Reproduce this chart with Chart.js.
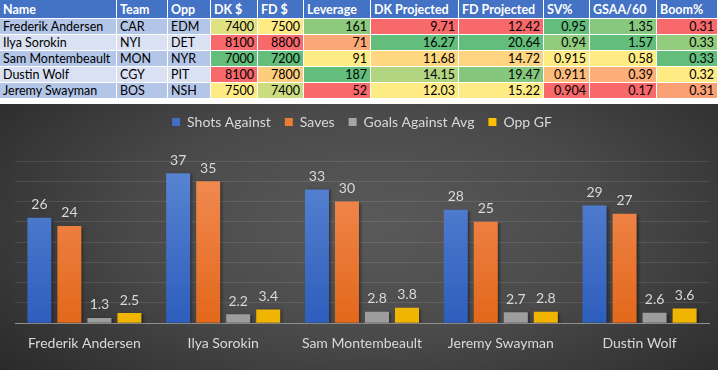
<!DOCTYPE html>
<html>
<head>
<meta charset="utf-8">
<script src="https://cdn.jsdelivr.net/npm/chart.js@4/dist/chart.umd.min.js"></script>
<style>
  html, body { margin: 0; padding: 0; background: #fff; }
  body { width: 718px; height: 370px; position: relative; overflow: hidden; font-family: Lato, "Open Sans", sans-serif; }
  #tbl { position: absolute; left: 0; top: 0; border-collapse: separate; border-spacing: 0; table-layout: fixed; width: 718px; font-size: 12.5px; }
  #tbl th, #tbl td { box-sizing: border-box; border-right: 1px solid #fff; border-bottom: 1px solid #fff; padding: 0 3px; white-space: nowrap; overflow: hidden; line-height: 15px; color: #000; }
  #tbl th { background: #4472C4; color: #fff; font-weight: bold; text-align: left; height: 19px; }
  #tbl td { height: 16px; }
  #tbl td.num { text-align: right; }
  #tbl tr.odd td.txt { background: #B4C6E7; }
  #tbl tr.even td.txt { background: #D9E1F2; }
  #wrap { position: absolute; left: 0; top: 104px; width: 718px; height: 266px;
          background: radial-gradient(ellipse 72% 95% at 52% 45%, #5a5a5a 0%, #4a4a4a 45%, #252525 100%); }
</style>
</head>
<body>
<table id="tbl"></table>
<div id="wrap"><canvas id="c" width="718" height="266"></canvas></div>
<script>
// ---- Table data ----
const tableHeaders = ["Name", "Team", "Opp", "DK $", "FD $", "Leverage", "DK Projected", "FD Projected", "SV%", "GSAA/60", "Boom%"];
const tableNames = ["Frederik Andersen", "Ilya Sorokin", "Sam Montembeault", "Dustin Wolf", "Jeremy Swayman"];
const tableTeams = ["CAR", "NYI", "MON", "CGY", "BOS"];
const tableOpps = ["EDM", "DET", "NYR", "PIT", "NSH"];
const dkSalary = [7400, 8100, 7000, 8100, 7500];
const fdSalary = [7500, 8800, 7200, 7800, 7400];
const leverage = [161, 71, 91, 187, 52];
const dkProjected = [9.71, 16.27, 11.68, 14.15, 12.03];
const fdProjected = [12.42, 20.64, 14.72, 19.47, 15.22];
const svPct = ["0.95", "0.94", "0.915", "0.911", "0.904"];
const gsaa60 = [1.35, 1.57, 0.58, 0.39, 0.17];
const boomPct = [0.306, 0.329, 0.334, 0.318, 0.311];

// ---- Chart data ----
const goalies = ["Frederik Andersen", "Ilya Sorokin", "Sam Montembeault", "Jeremy Swayman", "Dustin Wolf"];
const shotsAgainst = [26, 37, 33, 28, 29];
const saves = [24, 35, 30, 25, 27];
const goalsAgainstAvg = [1.3, 2.2, 2.8, 2.7, 2.6];
const oppGF = [2.5, 3.4, 3.8, 2.8, 3.6];

// ---- Colour scale (Excel 3-colour: red / yellow / green) ----
const RED = [248, 105, 107], YEL = [255, 235, 132], GRN = [99, 190, 123];
function mix(a, b, t) { return 'rgb(' + a.map((v, i) => Math.round(v + (b[i] - v) * t)).join(',') + ')'; }
function scale(vals, highGood) {
  const nums = vals.map(Number);
  const sorted = [...nums].sort((a, b) => a - b);
  const min = sorted[0], max = sorted[sorted.length - 1], mid = sorted[Math.floor(sorted.length / 2)];
  const lowC = highGood ? RED : GRN, highC = highGood ? GRN : RED;
  return nums.map(v => {
    if (v <= mid) return mix(lowC, YEL, mid === min ? 1 : (v - min) / (mid - min));
    return mix(YEL, highC, (v - mid) / (max - mid));
  });
}
const cols = [
  { vals: dkSalary, fmt: v => String(v), hg: false },
  { vals: fdSalary, fmt: v => String(v), hg: false },
  { vals: leverage, fmt: v => String(v), hg: true },
  { vals: dkProjected, fmt: v => v.toFixed(2), hg: true },
  { vals: fdProjected, fmt: v => v.toFixed(2), hg: true },
  { vals: svPct, fmt: v => v, hg: true },
  { vals: gsaa60, fmt: v => v.toFixed(2), hg: true },
  { vals: boomPct, fmt: v => v.toFixed(2), hg: true }
];
const colColors = cols.map(c => scale(c.vals, c.hg));
const widths = [117, 51, 43, 47, 46, 67, 88, 85, 46, 67, 61];
let html = '<colgroup>' + widths.map(w => '<col style="width:' + w + 'px">').join('') + '</colgroup>';
html += '<tr>' + tableHeaders.map(h => '<th>' + h + '</th>').join('') + '</tr>';
tableNames.forEach((n, r) => {
  html += '<tr class="' + (r % 2 === 0 ? 'odd' : 'even') + '">';
  html += '<td class="txt">' + n + '</td><td class="txt">' + tableTeams[r] + '</td><td class="txt">' + tableOpps[r] + '</td>';
  cols.forEach((c, k) => {
    html += '<td class="num" style="background:' + colColors[k][r] + '">' + c.fmt(c.vals[r]) + '</td>';
  });
  html += '</tr>';
});
document.getElementById('tbl').innerHTML = html;

// ---- Chart ----
function grad(top, bottom) {
  return (ctx) => {
    const ca = ctx.chart.chartArea;
    if (!ca) return bottom;
    const g = ctx.chart.ctx.createLinearGradient(0, ca.bottom, 0, ca.top);
    g.addColorStop(0, bottom);
    g.addColorStop(1, top);
    return g;
  };
}
const valueLabels = {
  id: 'valueLabels',
  beforeDatasetsDraw(chart) {
    const ctx = chart.ctx;
    ctx.save();
    ctx.shadowColor = 'rgba(0,0,0,0.45)';
    ctx.shadowBlur = 3;
    ctx.shadowOffsetX = 2;
    ctx.shadowOffsetY = 1;
  },
  afterDatasetsDraw(chart) {
    const ctx = chart.ctx;
    ctx.restore();
    ctx.save();
    ctx.font = '14px Lato, "Open Sans", sans-serif';
    ctx.fillStyle = '#d9d9d9';
    ctx.textAlign = 'center';
    ctx.textBaseline = 'middle';
    chart.data.datasets.forEach((ds, i) => {
      chart.getDatasetMeta(i).data.forEach((bar, j) => {
        ctx.fillText(String(ds.data[j]), bar.x, bar.y - 13);
      });
    });
    ctx.restore();
  }
};
const legendSpace = {
  id: 'legendSpace',
  beforeInit(chart) {
    const orig = chart.legend.fit;
    chart.legend.fit = function () { orig.call(this); this.height += 22; };
  }
};
const txt = '#d9d9d9';
new Chart(document.getElementById('c'), {
  type: 'bar',
  data: {
    labels: goalies,
    datasets: [
      { label: 'Shots Against', data: shotsAgainst, backgroundColor: grad('#5B86D3', '#2E5EBD') },
      { label: 'Saves', data: saves, backgroundColor: grad('#F38D57', '#E3681B') },
      { label: 'Goals Against Avg', data: goalsAgainstAvg, backgroundColor: grad('#B8B8B8', '#9C9C9C') },
      { label: 'Opp GF', data: oppGF, backgroundColor: grad('#FFCE36', '#EFB300') }
    ]
  },
  options: {
    responsive: false,
    animation: false,
    devicePixelRatio: 1,
    categoryPercentage: 0.865,
    barPercentage: 0.8,
    layout: { padding: { top: -3, left: 15, right: 9, bottom: 6 } },
    plugins: {
      legend: {
        position: 'top',
        labels: {
          color: txt,
          boxWidth: 8, boxHeight: 8,
          padding: 14,
          font: { size: 14, family: 'Lato, "Open Sans", sans-serif' },
          generateLabels(chart) {
            const cols = ['#3F6FC9', '#ED7D31', '#A5A5A5', '#FFC000'];
            return chart.data.datasets.map((d, i) => ({
              text: d.label, fillStyle: cols[i], strokeStyle: cols[i], lineWidth: 0,
              fontColor: txt, datasetIndex: i, hidden: false
            }));
          }
        }
      },
      tooltip: { enabled: false }
    },
    scales: {
      x: {
        grid: { display: false, drawTicks: false },
        border: { display: true, color: '#8f8f8f', width: 1 },
        ticks: { color: txt, padding: 12, font: { size: 14, family: 'Lato, "Open Sans", sans-serif' }, maxRotation: 0, autoSkip: false }
      },
      y: {
        min: 0, max: 40,
        ticks: { display: false, stepSize: 5 },
        grid: { color: 'rgba(255,255,255,0.1)', drawTicks: false },
        border: { display: false }
      }
    }
  },
  plugins: [valueLabels, legendSpace]
});
</script>
</body>
</html>
